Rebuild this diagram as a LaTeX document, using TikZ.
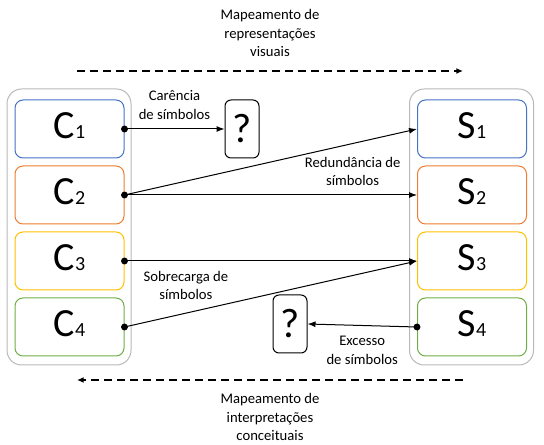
\documentclass[tikz,border=0pt]{standalone}
\usepackage{fontspec}
\setmainfont{Carlito}
\usepackage{xcolor}
\definecolor{frame-gray}{RGB}{185,185,185}
\definecolor{map-blue}{RGB}{68,114,196}
\definecolor{map-orange}{RGB}{237,125,49}
\definecolor{map-gold}{RGB}{255,192,0}
\definecolor{map-green}{RGB}{112,173,71}
\usetikzlibrary{positioning,arrows.meta}

\newcommand{\bigsym}[2]{{\fontsize{30}{30}\selectfont #1}{\fontsize{15}{15}\selectfont #2}}

\begin{document}
\begin{tikzpicture}[
    x=0.75pt, y=-0.75pt,
    every node/.style={inner sep=0pt},
    font=\fontsize{11}{14}\selectfont,
    group/.style={draw=frame-gray, line width=0.75pt, rounded corners=11pt,
        minimum width=93pt, minimum height=207pt},
    symbox/.style={draw=#1, line width=0.75pt, rounded corners=6pt,
        minimum width=81.75pt, minimum height=43.5pt,
        text height=19pt, text depth=4.5pt},
    qbox/.style={draw=black, line width=0.75pt, rounded corners=4.5pt,
        minimum width=25.5pt, minimum height=43.5pt, font=\fontsize{31}{31}\selectfont},
    link/.style={line width=0.75pt, -{Latex[length=6pt,width=4.5pt]}},
    maparrow/.style={line width=1.5pt, dash pattern=on 6pt off 3.75pt,
        -{Latex[length=5pt,width=4.5pt]}},
    lbl/.style={align=center}
]
\useasboundingbox (0,0) rectangle (544,445);

% Outer groups
\node[group] (concepts) at (69,227) {};
\node[group] (symbols) at (471.5,227) {};

% Concept boxes
\node[symbox=map-blue] (C1) at (69.5,129) {\bigsym{C}{1}};
\node[symbox=map-orange, below=5.25pt of C1] (C2) {\bigsym{C}{2}};
\node[symbox=map-gold, below=5.25pt of C2] (C3) {\bigsym{C}{3}};
\node[symbox=map-green, below=5.25pt of C3] (C4) {\bigsym{C}{4}};

% Symbol boxes
\node[symbox=map-blue] (S1) at (472,129) {\bigsym{S}{1}};
\node[symbox=map-orange, below=5.25pt of S1] (S2) {\bigsym{S}{2}};
\node[symbox=map-gold, below=5.25pt of S2] (S3) {\bigsym{S}{3}};
\node[symbox=map-green, below=5.25pt of S3] (S4) {\bigsym{S}{4}};

% Missing symbol / missing concept
\node[qbox] (q1) at (242,129) {?};
\node[qbox] (q2) at (290,324) {?};

% Links between concepts and symbols
\draw[link] (C1.east) -- node[lbl, midway, above=7pt] {Carência\\de símbolos} (q1.west);
\draw[link] (C2.east) -- (S1.west);
\draw[link] (C2.east) -- node[lbl, pos=0.78, above=6.5pt] {Redundância de\\símbolos} (S2.west);
\draw[link] (C3.east) -- node[lbl, pos=0.21, below=7pt] {Sobrecarga de\\símbolos} (S3.west);
\draw[link] (C4.east) -- (S3.west);
\draw[link] (S4.west) -- node[lbl, midway, below=7.5pt] {Excesso\\de símbolos} (q2.east);

% Dots at link origins
\foreach \a in {C1.east, C2.east, C3.east, C4.east, S4.west}
    \fill (\a) circle (2.6pt);

% Mapping directions
\coordinate (topL) at (77,71);
\coordinate (topR) at (463,71);
\coordinate (botL) at (77,380);
\coordinate (botR) at (463,380);
\draw[maparrow] (topL) -- (topR);
\draw[maparrow] (botR) -- (botL);

\node[lbl] (mapvis) at (270,33) {Mapeamento de\\representações\\visuais};
\node[lbl] (mapcon) at (270,417) {Mapeamento de\\interpretações\\conceituais};

\end{tikzpicture}
\end{document}
